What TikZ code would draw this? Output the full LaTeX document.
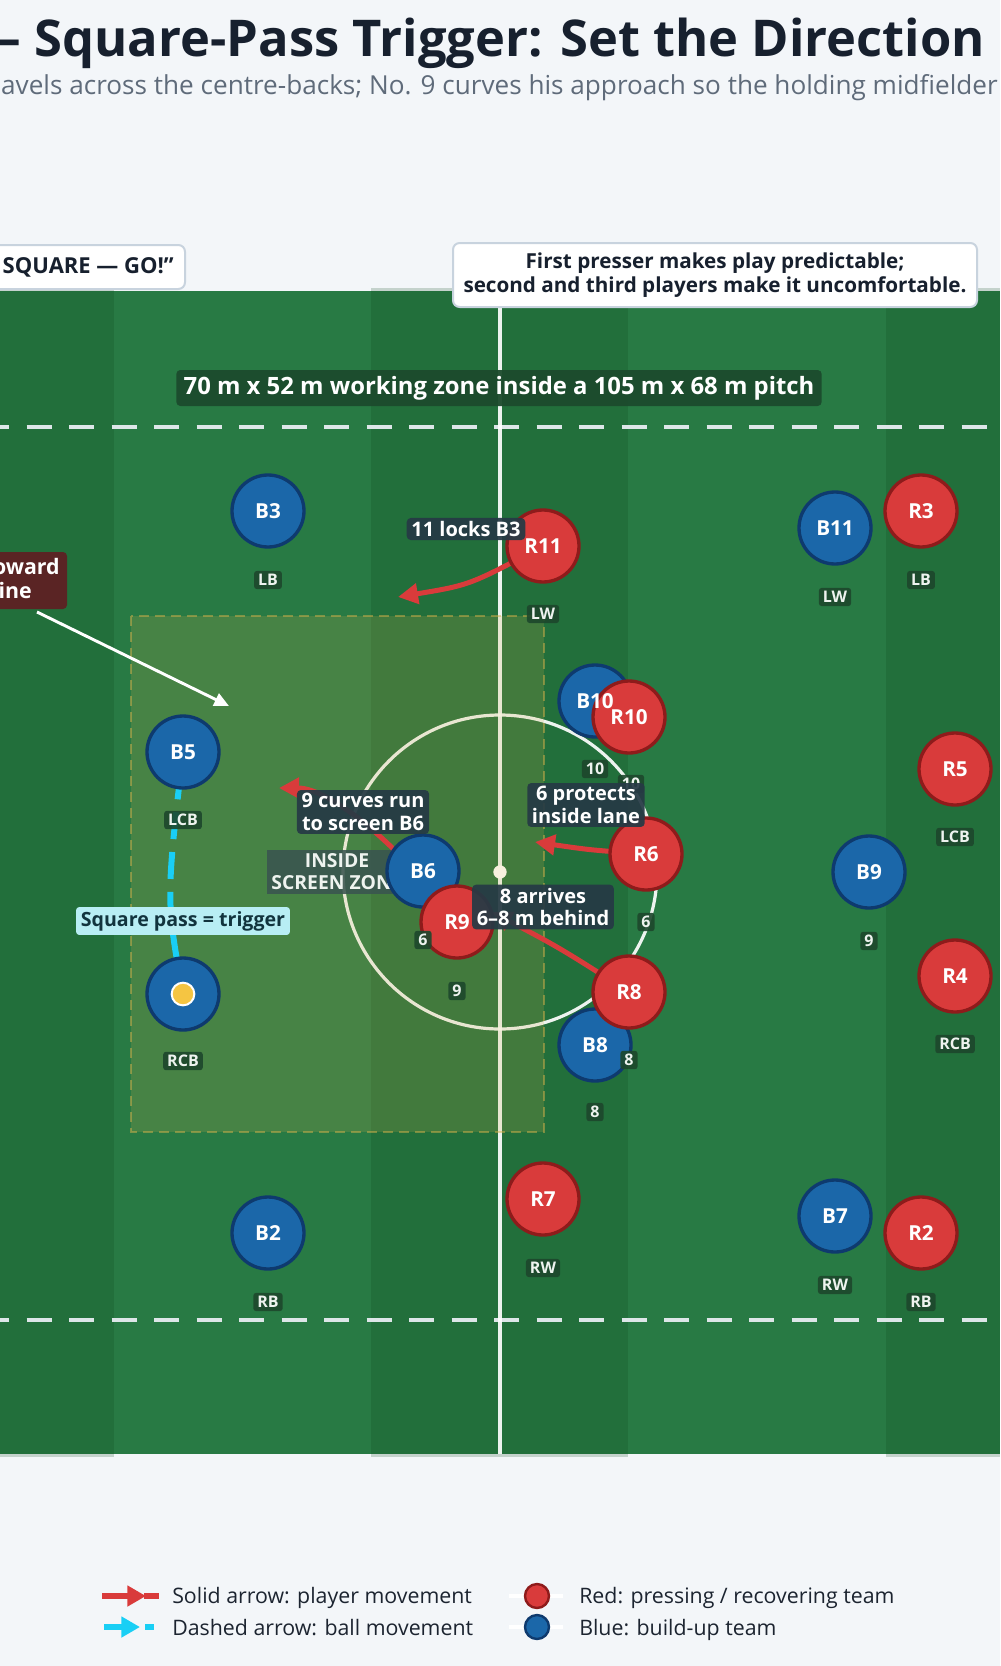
\documentclass[tikz,border=0pt]{standalone}
\usepackage{fontspec}
\setmainfont{Open Sans}
\usetikzlibrary{arrows.meta}
\definecolor{bg}{HTML}{F3F6F9}
\definecolor{pitchL}{HTML}{287A44}
\definecolor{stripec}{HTML}{0A4619}
\definecolor{zonec}{HTML}{D4B04A}
\definecolor{titlec}{HTML}{17202E}
\definecolor{subc}{HTML}{5F6B7A}
\definecolor{bluef}{HTML}{1B67A9}
\definecolor{blued}{HTML}{0E3A6E}
\definecolor{redf}{HTML}{D93B3B}
\definecolor{redd}{HTML}{8E1B1B}
\definecolor{roleg}{HTML}{1D472C}
\definecolor{rolet}{HTML}{EEF3EF}
\definecolor{annotc}{HTML}{263A45}
\definecolor{insidec}{HTML}{3A5550}
\definecolor{bannerc}{HTML}{1C4B2D}
\definecolor{calloutb}{HTML}{C8D3DE}
\definecolor{cyanc}{HTML}{19CFF5}
\definecolor{sqfill}{HTML}{B8EEF4}
\definecolor{sqtext}{HTML}{12343E}
\definecolor{maroon}{HTML}{5A2424}
\definecolor{ballc}{HTML}{F5C542}
\definecolor{dashc}{HTML}{DDE6E8}
\definecolor{legt}{HTML}{1C2430}
\begin{document}
\begin{tikzpicture}[x=0.75pt,y=-0.75pt,
  player/.style={circle, minimum size=54pt, inner sep=0pt, line width=2.5pt},
  bp/.style={player, fill=bluef, draw=blued},
  rp/.style={player, fill=redf, draw=redd},
  ptext/.style={text=white, inner sep=0pt, font=\bfseries\fontsize{15.5}{17}\selectfont},
  role/.style={fill=roleg, fill opacity=0.9, text opacity=1, text=rolet, rounded corners=2pt, inner xsep=3pt, inner ysep=2.5pt, font=\bfseries\fontsize{12}{14}\selectfont},
  annot/.style={fill=annotc, fill opacity=0.93, text opacity=1, text=white, rounded corners=3pt, inner xsep=3.5pt, inner ysep=2.5pt, align=center, font=\bfseries\fontsize{15}{17}\selectfont},
  redarrow/.style={draw=redf, line width=3.75pt, -{Triangle[length=15pt,width=15pt]}},
  pitchline/.style={draw=white, opacity=0.92, line width=2.4pt},
  calloutbox/.style={fill=white, draw=calloutb, line width=1.5pt, rounded corners=5pt},
  callout/.style={calloutbox, text=titlec, font=\bfseries\fontsize{15.5}{18}\selectfont},
  legtext/.style={anchor=base west, text=legt, font=\fontsize{16}{18}\selectfont, inner sep=0pt},
  stripe/.style={fill=stripec, fill opacity=0.2},
  towardtext/.style={anchor=base east, inner sep=0pt, text=white, font=\bfseries\fontsize{16}{17.5}\selectfont},
]
\useasboundingbox (0,0) rectangle (1000,1666);
\fill[bg] (0,0) rectangle (1000,1666);

% title
\node[anchor=base east, inner sep=0pt, text=titlec, font=\bfseries\fontsize{38}{42}\selectfont] (title) at (985,57) {— Square-Pass Trigger: Set the Direction};
\node[anchor=base east, inner sep=0pt, text=subc, font=\fontsize{19.6}{22}\selectfont] (subtitle) at (998,95) {avels across the centre-backs; No. 9 curves his approach so the holding midfielder};

% pitch
\fill[pitchL] (0,291) rectangle (1000,1454);
\fill[stripe] (0,288) rectangle (114,1457);
\fill[stripe] (371,288) rectangle (628,1457);
\fill[stripe] (886,288) rectangle (1000,1457);

\draw[dashc, line width=3pt, dash pattern=on 18.75pt off 13.125pt] (-16,427) -- (1016,427);
\draw[dashc, line width=3pt, dash pattern=on 18.75pt off 13.125pt] (-16,1320) -- (1016,1320);

\draw[pitchline] (500,291) -- (500,1454);
\draw[pitchline] (500,872) circle[radius=117.75pt];
\fill[white] (500,872) circle[radius=5pt];

% zone
\fill[zonec, fill opacity=0.18] (131,616) rectangle (544,1132);
\draw[zonec, opacity=0.5, line width=1.5pt, dash pattern=on 7.5pt off 4.5pt] (131,616) rectangle (544,1132);

% banner
\node[fill=bannerc, fill opacity=0.95, text opacity=1, text=white, rounded corners=3pt, minimum height=27pt, inner xsep=5.5pt, font=\bfseries\fontsize{17.9}{20}\selectfont] (banner) at (499,388) {70 m x 52 m working zone inside a 105 m x 68 m pitch};

% callouts
\node[callout, align=center, minimum width=393pt, minimum height=48pt, inner sep=2pt] (callR) at (715,275) {First presser makes play predictable;\\second and third players make it uncomfortable.};
\node[calloutbox, minimum width=147pt, minimum height=33pt, inner sep=0pt] (callL) at (87,267) {};
\node[anchor=east, inner sep=0pt, text=titlec, font=\bfseries\fontsize{16.5}{18}\selectfont] (callLt) at (174,267) {SQUARE — GO!”};

% inside screen zone label (under players)
\node[fill=insidec, fill opacity=0.88, text opacity=1, text=rolet, inner xsep=3pt, inner ysep=3pt, align=center, font=\bfseries\fontsize{14.5}{16.5}\selectfont] (inside) at (337,872) {INSIDE\\SCREEN ZONE};

% free ends
\coordinate (t11) at (398,597);
\coordinate (t9) at (279,788);
\coordinate (t6) at (535,842);
\coordinate (t8) at (492,912);
\coordinate (tw0) at (37,612);
\coordinate (tw1) at (229,706);

% player positions
\coordinate (pB4) at (183,994);
\coordinate (pB5) at (183,752);
\coordinate (pR11) at (543,546);
\coordinate (pR9) at (457,922);
\coordinate (pR6) at (646,854);
\coordinate (pR8) at (629,992);

% arrows (under players)
\draw[cyanc, line width=4.5pt, dash pattern=on 20.25pt off 9.75pt, dash phase=3pt] (pB4) .. controls (166,900) .. (pB5);
\draw[redarrow] (pR11) .. controls (470,585) .. (t11);
\draw[redarrow] (pR9) .. controls (400,845) and (330,788) .. (t9);
\draw[redarrow] (pR6) .. controls (590,850) .. (t6);
\draw[redarrow] (pR8) .. controls (560,948) .. (t8);

% toward box and arrow
\node[fill=maroon, rounded corners=3pt, minimum width=60pt, minimum height=42.75pt, inner sep=0pt] (toward) at (27,580.5) {};
\node[towardtext] (toward1) at (60,574) {oward};
\node[towardtext] (toward2) at (32,598) {ine};
\draw[white, line width=2.2pt, -{Triangle[length=11pt,width=10pt]}] (tw0) -- (tw1);

% player circles: blue
\node[bp] (B3) at (268,511) {};
\node[bp] (B11) at (835,528) {};
\node[bp] (B10) at (595,701) {};
\node[bp] (B5) at (pB5) {};
\node[bp] (B6) at (423,871) {};
\node[bp] (B9) at (869,872) {};
\node[bp] (B4) at (pB4) {};
\node[bp] (B8) at (595,1045) {};
\node[bp] (B7) at (835,1216) {};
\node[bp] (B2) at (268,1233) {};
% player circles: red
\node[rp] (R11) at (pR11) {};
\node[rp] (R3) at (921,511) {};
\node[rp] (R10) at (629,717) {};
\node[rp] (R5) at (955,769) {};
\node[rp] (R6) at (pR6) {};
\node[rp] (R9) at (pR9) {};
\node[rp] (R4) at (955,976) {};
\node[rp] (R8) at (pR8) {};
\node[rp] (R7) at (543,1199) {};
\node[rp] (R2) at (921,1233) {};
\node[circle, fill=ballc, draw=white, line width=1.5pt, minimum size=17pt, inner sep=0pt] (ball) at (pB4) {};

% player texts
\node[ptext] (tB3) at (B3) {B3};
\node[ptext] (tB11) at (B11) {B11};
\node[ptext] (tB10) at (B10) {B10};
\node[ptext] (tB5) at (B5) {B5};
\node[ptext] (tB6) at (B6) {B6};
\node[ptext] (tB9) at (B9) {B9};
\node[ptext] (tB8) at (B8) {B8};
\node[ptext] (tB7) at (B7) {B7};
\node[ptext] (tB2) at (B2) {B2};
\node[ptext] (tR11) at (R11) {R11};
\node[ptext] (tR3) at (R3) {R3};
\node[ptext] (tR10) at (R10) {R10};
\node[ptext] (tR5) at (R5) {R5};
\node[ptext] (tR6) at (R6) {R6};
\node[ptext] (tR9) at (R9) {R9};
\node[ptext] (tR4) at (R4) {R4};
\node[ptext] (tR8) at (R8) {R8};
\node[ptext] (tR7) at (R7) {R7};
\node[ptext] (tR2) at (R2) {R2};

% role labels
\node[role] (lB3) at (268,580) {LB};
\node[role] (lR11) at (543,614) {LW};
\node[role] (lB11) at (835,597) {LW};
\node[role] (lR3) at (921,580) {LB};
\node[role] (lB10) at (595,769) {10};
\node[role] (lR10) at (631,784) {10};
\node[role] (lB5) at (183,820) {LCB};
\node[role] (lR5) at (955,837) {LCB};
\node[role] (lR6) at (646,922) {6};
\node[role] (lB6) at (423,940) {6};
\node[role] (lB9) at (869,941) {9};
\node[role] (lR9) at (457,991) {9};
\node[role] (lR4) at (955,1044) {RCB};
\node[role] (lR8) at (629,1060) {8};
\node[role] (lB4) at (183,1061) {RCB};
\node[role] (lB8) at (595,1112) {8};
\node[role] (lR7) at (543,1268) {RW};
\node[role] (lB7) at (835,1285) {RW};
\node[role] (lB2) at (268,1302) {RB};
\node[role] (lR2) at (921,1302) {RB};

% annotations
\node[annot] (a11) at (466,529) {11 locks B3};
\node[annot] (a9) at (363,812) {9 curves run\\to screen B6};
\node[annot] (a6) at (586,805) {6 protects\\inside lane};
\node[annot] (a8) at (543,907) {8 arrives\\6–8 m behind};
\node[fill=sqfill, text=sqtext, rounded corners=2pt, inner xsep=3.5pt, inner ysep=3pt, font=\bfseries\fontsize{14.7}{16}\selectfont] (sq) at (183,921) {Square pass = trigger};

% legend
\draw[redf, line width=4.5pt, -{Triangle[length=14pt,width=15pt]}] (102,1596) -- (146,1596);
\draw[redf, line width=4.5pt] (144,1596) -- (159,1596);
\draw[cyanc, line width=4.5pt, -{Triangle[length=14pt,width=15pt]}] (104,1627) -- (140,1627);
\draw[cyanc, line width=4.5pt] (145,1627) -- (154,1627);
\draw[white, line width=3pt] (509,1596) -- (563,1596);
\draw[white, line width=3pt] (509,1627) -- (563,1627);
\node[circle, fill=redf, draw=redd, line width=1.8pt, minimum size=18pt, inner sep=0pt] (legR) at (537,1596) {};
\node[circle, fill=bluef, draw=blued, line width=1.8pt, minimum size=18pt, inner sep=0pt] (legB) at (537,1627) {};
\node[legtext] (l1) at (172,1603) {Solid arrow: player movement};
\node[legtext] (l2) at (172,1635) {Dashed arrow: ball movement};
\node[legtext] (l3) at (579,1603) {Red: pressing / recovering team};
\node[legtext] (l4) at (579,1635) {Blue: build-up team};
\end{tikzpicture}
\end{document}
